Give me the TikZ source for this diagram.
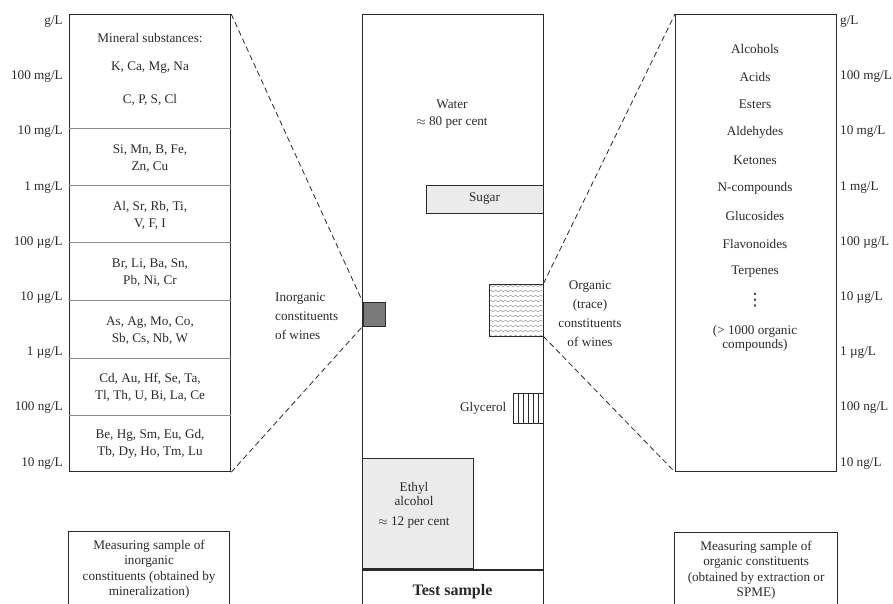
\documentclass[tikz,border=0pt]{standalone}
\usepackage{fontspec}
\setmainfont{Liberation Serif}
\newfontfamily\symfont{DejaVu Sans}
\usetikzlibrary{positioning,decorations.pathmorphing}
\definecolor{ink}{HTML}{2A2A2A}
\definecolor{rule}{HTML}{8C8C8C}
\definecolor{wash}{HTML}{EBEBEB}
\definecolor{slate}{HTML}{7A7A7A}
\newcommand{\txt}{\fontsize{13.2}{17}\selectfont}
\newcommand{\tighttxt}{\fontsize{13.2}{14.5}\selectfont}
\newcommand{\widetxt}{\fontsize{13.2}{19}\selectfont}

\begin{document}
\begin{tikzpicture}[x=1pt,y=-1pt,
 panel/.style={draw=ink,line width=1.2pt,inner sep=0pt,anchor=north west},
 elem/.style={align=center,font=\txt,text=ink,inner sep=0pt},
 unit/.style={font=\txt,text=ink,inner sep=0pt},
 fillbox/.style={draw=ink,line width=1pt,fill=wash,inner sep=0pt,font=\txt,text=ink},
 zoomline/.style={draw=ink,dash pattern=on 5.5pt off 3.5pt,line width=0.8pt}]
\clip (0,0) rectangle (893,604);
% the three tall columns
\node[panel,minimum width=161pt,minimum height=457pt] (minerals) at (69,14) {};
\node[panel,minimum width=181pt,minimum height=620pt] (sample) at (362,14) {};
\node[panel,minimum width=161pt,minimum height=457pt] (organics) at (675,14) {};
\foreach \y in {128,185,242,300,358,415}
  \draw[rule,line width=0.7pt] (minerals.west |- 0,\y) -- (minerals.east |- 0,\y);
\draw[ink,line width=1.2pt] (sample.west |- 0,570) -- (sample.east |- 0,570);

% concentration scales
\foreach \u [count=\k from 0] in {g/L,100 mg/L,10 mg/L,1 mg/L,100 µg/L,10 µg/L,1 µg/L,100 ng/L,10 ng/L} {
  \node[unit,anchor=east] (ul\k) at (63,21.5+55.2*\k) {\u};
  \node[unit,anchor=west] (ur\k) at (840,21.5+55.2*\k) {\u};
}

% inorganic constituents
\foreach \y/\lbl [count=\i] in {38/{Mineral substances:},68/{K, Ca, Mg, Na},100/{C, P, S, Cl},
  158.5/{Si, Mn, B, Fe,\\Zn, Cu},215/{Al, Sr, Rb, Ti,\\V, F, I},272.5/{Br, Li, Ba, Sn,\\Pb, Ni, Cr},
  331/{As, Ag, Mo, Co,\\Sb, Cs, Nb, W},387.5/{Cd, Au, Hf, Se, Ta,\\Tl, Th, U, Bi, La, Ce},
  444/{Be, Hg, Sm, Eu, Gd,\\Tb, Dy, Ho, Tm, Lu}}
  \node[elem] (el\i) at (150,\y) {\lbl};

% organic constituents
\foreach \c [count=\k from 0] in {Alcohols,Acids,Esters,Aldehydes,Ketones,N-compounds,Glucosides,Flavonoides,Terpenes}
  \node[elem] (oc\k) at (755,49+27.8*\k) {\c};
\node[elem,font=\symfont\fontsize{17}{19}\selectfont] (ocdots) at (755,300) {⋮};
\node[elem,font=\tighttxt] (ocmore) at (755,338.5) {(> 1000 organic\\compounds)};

% test sample
\node[elem] (water) at (452,114) {Water\\$\approx$ 80 per cent};
\node[fillbox,minimum width=117pt,minimum height=28pt] (sugar) at (484.5,199) {Sugar};
\node[fillbox,fill=slate,minimum width=22pt,minimum height=24pt] (inorg) at (374,314) {};
\node[draw=ink,line width=1pt,inner sep=0pt,minimum width=54pt,minimum height=52pt,
  path picture={\foreach \k in {0,...,10}
    \draw[rule,line width=0.4pt,decorate,decoration={snake,amplitude=0.9pt,segment length=5pt}]
      ([yshift=-\k*5pt-2pt]path picture bounding box.north west) -- ([yshift=-\k*5pt-2pt]path picture bounding box.north east);}] (organic) at (516,310) {};
\node[draw=ink,line width=1pt,inner sep=0pt,minimum size=30pt,
  path picture={\foreach \k in {1,...,5}
    \draw[ink,line width=0.6pt] ([xshift=\k*5pt]path picture bounding box.north west) -- ([xshift=\k*5pt]path picture bounding box.south west);}] (glycerol) at (528,408) {};
\node[elem,left=6pt of glycerol] (glytxt) {Glycerol};
\node[fillbox,minimum width=111pt,minimum height=110pt] (ethyl) at (417.5,513) {};
\node[elem,font=\tighttxt] (ethyltxt) at (414,505) {Ethyl\\alcohol\\[5pt]$\approx$ 12 per cent};
\node[elem,font=\fontsize{16}{19}\selectfont\bfseries] (testtxt) at (452.5,592) {Test sample};

% labels beside the test sample
\node[elem,align=left,anchor=west,font=\widetxt] (inorglbl) at (275,316) {Inorganic\\constituents\\of wines};
\node[elem,font=\widetxt] (orglbl) at (590,314) {Organic\\(trace)\\constituents\\of wines};

% measuring samples
\node[panel,minimum width=161pt,minimum height=100pt] (measinorg) at (68,531) {};
\node[elem,font=\fontsize{13.2}{15.4}\selectfont,anchor=north] (measinorgtxt) at ([yshift=-9pt]measinorg.north) {Measuring sample of\\inorganic\\constituents (obtained by\\mineralization)};
\node[panel,minimum width=163pt,minimum height=100pt] (measorg) at (674,532) {};
\node[elem,font=\fontsize{13.2}{15.4}\selectfont,anchor=north] (measorgtxt) at ([yshift=-9pt]measorg.north) {Measuring sample of\\organic constituents\\(obtained by extraction or\\SPME)};

% zoom lines
\draw[zoomline] (minerals.north east) -- (inorg.north west);
\draw[zoomline] (minerals.south east) -- (inorg.south west);
\draw[zoomline] (organic.north east) -- (organics.north west);
\draw[zoomline] (organic.south east) -- (organics.south west);
\end{tikzpicture}
\end{document}
